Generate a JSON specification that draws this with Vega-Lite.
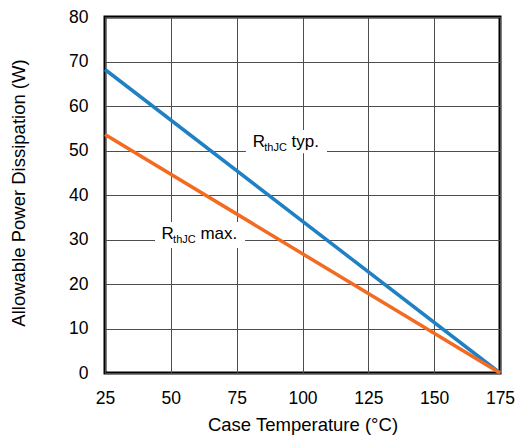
{
  "$schema": "https://vega.github.io/schema/vega-lite/v6.json",
  "width": 395,
  "height": 356,
  "autosize": {"type": "none"},
  "padding": {"left": 105, "top": 17, "right": 17, "bottom": 63},
  "background": "white",
  "config": {
    "view": {"stroke": "black", "strokeWidth": 3},
    "font": "Liberation Sans",
    "axis": {
      "domain": false,
      "ticks": false,
      "grid": true,
      "gridColor": "#4d4d4d",
      "gridWidth": 1,
      "gridOpacity": 1,
      "labelFont": "Liberation Sans",
      "labelFontSize": 17.5,
      "labelColor": "black",
      "titleFont": "Liberation Sans",
      "titleFontSize": 18.5,
      "titleFontWeight": "normal",
      "titleColor": "black"
    },
    "axisX": {"labelPadding": 16, "labelFlush": false, "titleY": 57, "titleBaseline": "alphabetic"},
    "axisY": {"labelPadding": 17, "titleX": -81, "titleY": 175.5, "titleBaseline": "alphabetic", "titleAngle": -90, "titleAlign": "center"}
  },
  "datasets": {
    "curves": [
      {"series": "typ", "temp": 25, "power": 68.2},
      {"series": "typ", "temp": 175, "power": 0},
      {"series": "max", "temp": 25, "power": 53.6},
      {"series": "max", "temp": 175, "power": 0}
    ],
    "labels": [
      {"main": "R", "sub": "thJC", "suffix": "typ.", "temp": 81.1, "power": 50.72, "bx1": 78.5, "bx2": 109.3, "by1": 49.37, "by2": 54.6},
      {"main": "R", "sub": "thJC", "suffix": "max.", "temp": 46.5, "power": 30.04, "bx1": 44.0, "bx2": 78.2, "by1": 28.09, "by2": 33.93}
    ]
  },
  "layer": [
    {
      "data": {"name": "labels"},
      "mark": {"type": "rect", "fill": "white", "stroke": null},
      "encoding": {
        "x": {"field": "bx1", "type": "quantitative", "title": "Case Temperature (°C)", "scale": {"domain": [25, 175], "nice": false, "zero": false}, "axis": {"values": [25, 50, 75, 100, 125, 150, 175]}},
        "x2": {"field": "bx2"},
        "y": {"field": "by1", "type": "quantitative", "title": "Allowable Power Dissipation (W)", "scale": {"domain": [0, 80], "nice": false}, "axis": {"values": [0, 10, 20, 30, 40, 50, 60, 70, 80]}},
        "y2": {"field": "by2"}
      }
    },
    {
      "data": {"name": "curves"},
      "mark": {"type": "line", "strokeWidth": 3.5, "strokeCap": "butt"},
      "encoding": {
        "x": {"field": "temp", "type": "quantitative", "title": "Case Temperature (°C)", "axis": {"values": [25, 50, 75, 100, 125, 150, 175]}},
        "y": {"field": "power", "type": "quantitative", "title": "Allowable Power Dissipation (W)", "axis": {"values": [0, 10, 20, 30, 40, 50, 60, 70, 80]}},
        "color": {"field": "series", "type": "nominal", "scale": {"domain": ["typ", "max"], "range": ["#1f80c4", "#f36b21"]}, "legend": null},
        "detail": {"field": "series"}
      }
    },
    {
      "data": {"name": "labels"},
      "mark": {"type": "text", "align": "left", "baseline": "alphabetic", "fontSize": 17, "font": "Liberation Sans", "color": "black"},
      "encoding": {
        "x": {"field": "temp", "type": "quantitative", "title": "Case Temperature (°C)", "axis": {"values": [25, 50, 75, 100, 125, 150, 175]}},
        "y": {"field": "power", "type": "quantitative", "title": "Allowable Power Dissipation (W)", "axis": {"values": [0, 10, 20, 30, 40, 50, 60, 70, 80]}},
        "text": {"field": "main"}
      }
    },
    {
      "data": {"name": "labels"},
      "mark": {"type": "text", "align": "left", "baseline": "alphabetic", "fontSize": 11, "dx": 11.5, "dy": 3.4, "font": "Liberation Sans", "color": "black"},
      "encoding": {
        "x": {"field": "temp", "type": "quantitative", "title": "Case Temperature (°C)", "axis": {"values": [25, 50, 75, 100, 125, 150, 175]}},
        "y": {"field": "power", "type": "quantitative", "title": "Allowable Power Dissipation (W)", "axis": {"values": [0, 10, 20, 30, 40, 50, 60, 70, 80]}},
        "text": {"field": "sub"}
      }
    },
    {
      "data": {"name": "labels"},
      "mark": {"type": "text", "align": "left", "baseline": "alphabetic", "fontSize": 17, "dx": 38.8, "font": "Liberation Sans", "color": "black"},
      "encoding": {
        "x": {"field": "temp", "type": "quantitative", "title": "Case Temperature (°C)", "axis": {"values": [25, 50, 75, 100, 125, 150, 175]}},
        "y": {"field": "power", "type": "quantitative", "title": "Allowable Power Dissipation (W)", "axis": {"values": [0, 10, 20, 30, 40, 50, 60, 70, 80]}},
        "text": {"field": "suffix"}
      }
    }
  ]
}
